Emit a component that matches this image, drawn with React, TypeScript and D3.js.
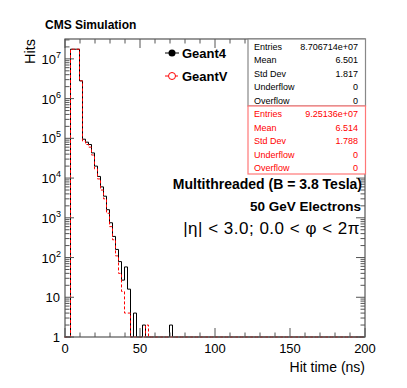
import React from "react";
import * as d3 from "d3";

const binWidth = 2; // ns
const geant4 = [0, 0, 1.75e7, 1.75e7, 1.75e7, 2.8e6, 9.5e4, 8e4, 7e4, 4.3e4, 2e4, 1.1e4, 6e3, 3.5e3, 1.6e3, 750, 340, 160, 79, 27, 58, 16, 0, 4, 0, 0, 2, 0, 0, 0, 0, 0, 0, 0, 0, 2];
const geantV = [0, 0, 1.75e7, 1.75e7, 1.75e7, 2.8e6, 8.5e4, 7e4, 6e4, 3.8e4, 1.7e4, 9.5e3, 5e3, 3e3, 1.3e3, 600, 280, 110, 40, 14, 4, 4, 0, 0, 0, 0, 0, 2];
const xTicks = [0, 50, 100, 150, 200];
const yDecades = [0, 1, 2, 3, 4, 5, 6, 7];
const statLabels = ["Entries", "Mean", "Std Dev", "Underflow", "Overflow"];
const stats4 = ["8.706714e+07", "6.501", "1.817", "0", "0"];
const statsV = ["9.25136e+07", "6.514", "1.788", "0", "0"];

const W = 407, H = 388;
const L = 65, R = 365, T = 39, B = 337;
const FONT = "Liberation Sans, Arial, Helvetica, sans-serif";

export default function App() {
  const x = d3.scaleLinear().domain([0, 200]).range([L, R]);
  const y = d3.scaleLog().domain([1, Math.pow(10, 7.5)]).range([B, T]);

  const histPath = (vals: number[]) => {
    const nb = Math.round(200 / binWidth);
    const pts: [number, number][] = [];
    for (let i = 0; i < nb; i++) {
      const v = vals[i] ?? 0;
      const yy = v > 1 ? y(v) : B;
      pts.push([x(i * binWidth) - 0.5, yy]);
      pts.push([x((i + 1) * binWidth) - 0.5, yy]);
    }
    return d3.line()(pts) as string;
  };

  const minorX = d3.range(0, 201, 10);
  const minorY: number[] = [];
  for (let d = 0; d < 8; d++) for (let m = 2; m <= 9; m++) {
    const v = m * Math.pow(10, d);
    if (y(v) >= T) minorY.push(v);
  }
  const axisColor = "#555";

  return (
    <svg width={W} height={H} style={{ position: "absolute", left: 0, top: 0, background: "#fff" }} fontFamily={FONT}>
      <rect x={0} y={0} width={W} height={H} fill="#fff" />
      {/* histograms */}
      <path d={histPath(geant4)} fill="none" stroke="#000" strokeWidth={1} />
      <path d={histPath(geantV)} fill="none" stroke="#ff0000" strokeWidth={1} strokeDasharray="3,2" />
      {/* frame */}
      <rect x={L} y={T} width={R - L} height={B - T} fill="none" stroke={axisColor} strokeWidth={1.2} />
      {minorX.map((t) => {
        const major = t % 50 === 0;
        const len = major ? 9 : 4.5;
        return (
          <g key={"xt" + t}>
            <line x1={x(t)} x2={x(t)} y1={B} y2={B - len} stroke={axisColor} />
            <line x1={x(t)} x2={x(t)} y1={T} y2={T + len} stroke={axisColor} />
          </g>
        );
      })}
      {yDecades.map((d) => (
        <g key={"yd" + d}>
          <line x1={L} x2={L + 9} y1={y(Math.pow(10, d))} y2={y(Math.pow(10, d))} stroke={axisColor} />
          <line x1={R} x2={R - 9} y1={y(Math.pow(10, d))} y2={y(Math.pow(10, d))} stroke={axisColor} />
        </g>
      ))}
      {minorY.map((v, i) => (
        <g key={"ym" + i}>
          <line x1={L} x2={L + 4.5} y1={y(v)} y2={y(v)} stroke={axisColor} />
          <line x1={R} x2={R - 4.5} y1={y(v)} y2={y(v)} stroke={axisColor} />
        </g>
      ))}
      {/* x labels */}
      {xTicks.map((t) => (
        <text key={"xl" + t} x={x(t)} y={B + 16} fontSize={13} textAnchor="middle">{t}</text>
      ))}
      <text x={R} y={372} fontSize={14} textAnchor="end">Hit time (ns)</text>
      {/* y labels */}
      {yDecades.map((d) => {
        const yy = y(Math.pow(10, d)) + 5;
        if (d === 0) return <text key="yl0" x={60} y={yy} fontSize={13} textAnchor="end">1</text>;
        if (d === 1) return <text key="yl1" x={60} y={yy} fontSize={13} textAnchor="end">10</text>;
        return (
          <text key={"yl" + d} x={61} y={yy} fontSize={13} textAnchor="end">
            10<tspan fontSize={9} dy={-6}>{d}</tspan>
          </text>
        );
      })}
      <text transform={`translate(35,${T}) rotate(-90)`} fontSize={14.5} textAnchor="end">Hits</text>
      {/* title */}
      <text x={45} y={29} fontSize={12} fontWeight="bold">CMS Simulation</text>
      {/* legend */}
      <line x1={165} x2={179} y1={53} y2={53} stroke="#000" />
      <circle cx={172} cy={53} r={3.5} fill="#000" />
      <text x={182} y={57.5} fontSize={13} fontWeight="bold">Geant4</text>
      <line x1={165} x2={179} y1={76} y2={76} stroke="#ff0000" strokeDasharray="3,2" />
      <circle cx={172} cy={76} r={3.5} fill="#fff" stroke="#ff0000" />
      <text x={182} y={80.5} fontSize={13} fontWeight="bold">GeantV</text>
      {/* stats boxes */}
      <rect x={248} y={39} width={117.5} height={67} fill="#fff" stroke="#888" strokeWidth={1.2} />
      {statLabels.map((s, i) => (
        <g key={"s4" + i}>
          <text x={254} y={49.5 + i * 13.5} fontSize={9}>{s}</text>
          <text x={358} y={49.5 + i * 13.5} fontSize={9} textAnchor="end">{stats4[i]}</text>
        </g>
      ))}
      <rect x={248} y={106} width={117.5} height={68} fill="#fff" stroke="#ff7777" strokeWidth={1.2} />
      {statLabels.map((s, i) => (
        <g key={"sv" + i}>
          <text x={254} y={117 + i * 13.6} fontSize={9} fill="#ff0000">{s}</text>
          <text x={358} y={117 + i * 13.6} fontSize={9} textAnchor="end" fill="#ff0000">{statsV[i]}</text>
        </g>
      ))}
      {/* annotations */}
      <text x={362} y={189} fontSize={14} fontWeight="bold" textAnchor="end">Multithreaded (B = 3.8 Tesla)</text>
      <text x={361} y={211} fontSize={13.5} fontWeight="bold" textAnchor="end">50 GeV Electrons</text>
      <text x={360} y={234} fontSize={17} textAnchor="end" letterSpacing={0.5}>|η| &lt; 3.0; 0.0 &lt; φ &lt; 2π</text>
    </svg>
  );
}
